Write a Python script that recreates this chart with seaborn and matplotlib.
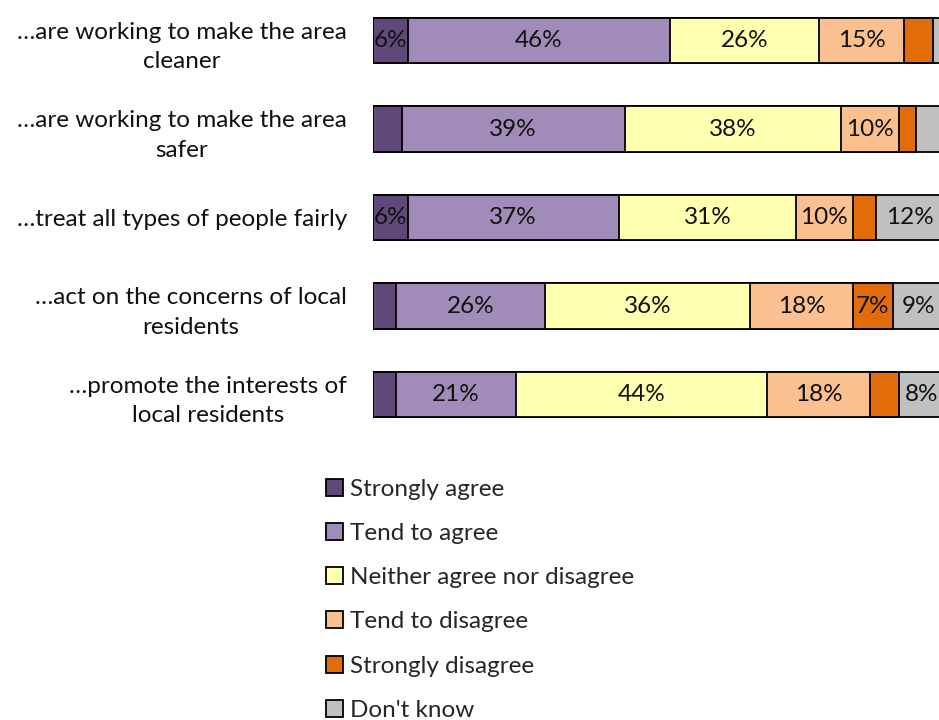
import numpy as np
import pandas as pd
import matplotlib
matplotlib.use("Agg")
import matplotlib.pyplot as plt
from matplotlib.patches import Patch
import seaborn as sns

# Survey statements (agreement that local services ...)
statements = [
    "\u2026are working to make the area\ncleaner",
    "\u2026are working to make the area\nsafer",
    "\u2026treat all types of people fairly",
    "\u2026act on the concerns of local\nresidents",
    "\u2026promote the interests of\nlocal residents",
]

responses = [
    "Strongly agree",
    "Tend to agree",
    "Neither agree nor disagree",
    "Tend to disagree",
    "Strongly disagree",
    "Don't know",
]

# Percentages per response, one value per statement
strongly_agree = [6, 5, 6, 4, 4]
tend_to_agree = [46, 39, 37, 26, 21]
neither = [26, 38, 31, 36, 44]
tend_to_disagree = [15, 10, 10, 18, 18]
strongly_disagree = [5, 3, 4, 7, 5]
dont_know = [2, 5, 12, 9, 8]

colors = ["#5F497A", "#A18BB8", "#FFFFB0", "#FAC090", "#E36C0A", "#C0C0C0"]

series = [strongly_agree, tend_to_agree, neither,
          tend_to_disagree, strongly_disagree, dont_know]

FS = 17.5

sns.set_theme(style="white")
plt.rcParams["font.family"] = ["Lato", "DejaVu Sans"]

fig = plt.figure(figsize=(9.39, 7.2), dpi=100)
ax = fig.add_axes([0.3976, 0.3906, 0.608, 0.6146])

values = np.array(series, dtype=float)
cumulative = np.cumsum(values, axis=0)

# Draw the stacked bars from the longest cumulative layer down
for k in range(len(responses) - 1, -1, -1):
    df = pd.DataFrame({"statement": statements, "value": cumulative[k]})
    sns.barplot(data=df, x="value", y="statement", orient="h",
                color=colors[k], saturation=1, edgecolor="black",
                linewidth=1.3, width=0.51, errorbar=None, ax=ax)

# Value labels centred in each segment
for k in range(len(responses)):
    starts = cumulative[k] - values[k]
    for i, v in enumerate(values[k]):
        if v >= 6:
            ax.text(starts[i] + v / 2, i, f"{int(v)}%", ha="center",
                    va="center", fontsize=FS, color="#111111")

ax.set_xlim(0, 100)
ax.set_ylim(4.5, -0.5)
ax.set_xlabel("")
ax.set_ylabel("")
ax.set_xticks([])
for s in ax.spines.values():
    s.set_visible(False)
ax.tick_params(axis="y", length=0, pad=19, labelsize=FS)
for lbl in ax.get_yticklabels():
    lbl.set_multialignment("center")
    lbl.set_linespacing(1.5)
    lbl.set_color("#111111")

handles = [Patch(facecolor=c, edgecolor="black", linewidth=1.3) for c in colors]
fig.legend(handles, responses, loc="upper left",
           bbox_to_anchor=(0.337, 0.348), frameon=False, fontsize=FS,
           handlelength=0.7, handleheight=0.7, handletextpad=0.3,
           labelspacing=0.95, borderaxespad=0)

fig.savefig("out.png", dpi=100)
